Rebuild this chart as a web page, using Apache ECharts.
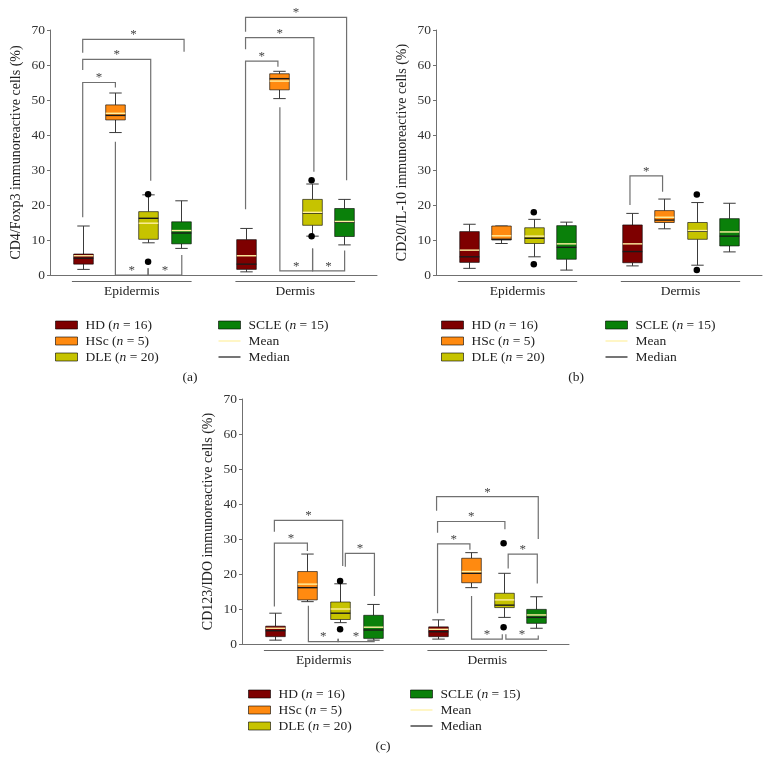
<!DOCTYPE html>
<html>
<head>
<meta charset="utf-8">
<script src="https://cdn.jsdelivr.net/npm/echarts@6/dist/echarts.min.js"></script>
<style>html,body{margin:0;padding:0;background:#fff}#chart{width:770px;height:760px}</style>
</head>
<body>
<div id="chart"></div>
<script>
// ---------- DATA ----------
const regions = ['Epidermis', 'Dermis'];
const groupNames = ['HD', 'HSc', 'DLE', 'SCLE'];
const groupN = [16, 5, 20, 15];
const yTicks = [0, 10, 20, 30, 40, 50, 60, 70];
const yTitles = ['CD4/Foxp3 immunoreactive cells (%)', 'CD20/IL-10 immunoreactive cells (%)', 'CD123/IDO immunoreactive cells (%)'];
const panelLabels = ['(a)', '(b)', '(c)'];

// each row: [min, q1, median, q3, max, mean]; first row Epidermis, second row Dermis
const a_HD   = [[1.6, 3.1, 4.8, 6.0, 14.0, 5.5], [0.9, 1.6, 3.1, 10.1, 13.3, 5.5]];
const a_HSc  = [[40.7, 44.3, 45.6, 48.6, 52.0, 46.2], [50.4, 52.9, 56.1, 57.5, 58.2, 55.4]];
const a_DLE  = [[9.2, 10.2, 16.2, 18.1, 22.9, 14.8], [11.1, 14.2, 17.7, 21.6, 26.0, 17.9]];
const a_SCLE = [[7.6, 8.9, 12.0, 15.2, 21.2, 12.7], [8.6, 11.0, 15.1, 19.0, 21.6, 15.3]];
const a_DLE_out = [[23.1, 3.8], [27.1, 11.1]];

const b_HD   = [[1.9, 3.6, 5.2, 12.4, 14.5, 7.1], [2.6, 3.5, 6.7, 14.3, 17.6, 8.9]];
const b_HSc  = [[9.0, 10.0, 10.2, 14.0, 14.0, 11.2], [13.2, 15.0, 15.7, 18.4, 21.7, 16.5]];
const b_DLE  = [[5.2, 9.0, 10.5, 13.5, 15.9, 11.1], [2.8, 10.2, 12.5, 15.0, 20.7, 12.7]];
const b_SCLE = [[1.4, 4.5, 7.9, 14.1, 15.1, 8.9], [6.6, 8.3, 11.1, 16.1, 20.5, 12.3]];
const b_DLE_out = [[17.9, 3.1], [23.0, 1.4]];

const c_HD   = [[1.1, 2.1, 3.8, 5.1, 8.8, 4.5], [1.4, 2.1, 3.5, 4.9, 6.9, 4.2]];
const c_HSc  = [[12.1, 12.6, 16.1, 20.7, 25.7, 17.1], [16.1, 17.5, 20.2, 24.5, 26.1, 20.7]];
const c_DLE  = [[6.1, 7.0, 8.8, 12.0, 17.2, 10.0], [7.6, 10.4, 11.1, 14.5, 20.2, 12.6]];
const c_SCLE = [[1.1, 1.6, 4.0, 8.2, 11.3, 4.8], [4.5, 5.9, 7.6, 9.9, 13.5, 8.3]];
const c_DLE_out = [[18.0, 4.2], [28.8, 4.8]];

// significance brackets: [xFrom, xTo, yBar, yEndFrom, yEndTo] (x in box-slot units)
const a_sig = [
  [1.0, 2.0, 55.0, 16.5, 53.6], [1.0, 3.08, 61.6, 58.6, 26.9], [1.0, 4.1, 67.3, 63.5, 63.8],
  [2.0, 3.0, 0, 38.1, 1.9], [3.0, 4.03, 0, 1.9, 5.7],
  [5.98, 9.07, 73.6, 69.5, 27.1], [5.98, 8.07, 67.8, 64.5, 29.5], [5.98, 6.97, 61.1, 18.8, 59.5],
  [7.03, 8.03, 1.2, 47.9, 7.6], [8.03, 9.01, 1.2, 7.6, 7.0]
];
const b_sig = [[5.95, 6.95, 28.3, 20.0, 23.8]];
const c_sig = [
  [0.99, 2.0, 28.8, 10.7, 26.6], [0.99, 3.08, 35.3, 32.1, 22.3], [3.16, 4.05, 25.9, 22.1, 13.7],
  [2.03, 2.94, 0.7, 10.9, 1.5], [2.94, 4.04, 0.7, 1.5, 1.4],
  [5.95, 9.06, 42.1, 38.1, 30.0], [5.98, 8.04, 35.0, 31.8, 32.8], [5.98, 6.97, 28.6, 8.8, 26.9],
  [8.14, 9.03, 25.7, 21.6, 17.3], [7.02, 7.96, 1.4, 13.7, 2.8], [8.07, 9.06, 1.4, 2.8, 2.4]
];

// ---------- STYLE ----------
const FONT = '"Liberation Serif", "DejaVu Serif", serif';
const groupColors = ['#7E0000', '#FF8A10', '#C6C300', '#0A800A'];
const meanColor = '#FFF0A0';
const medianColor = '#1a1a1a';
const panels = [
  {box: [a_HD, a_HSc, a_DLE, a_SCLE], out: a_DLE_out, sig: a_sig, grid: {left: 50, top: 30, width: 327, height: 245},
   legendTop: 312, legendLeft: [50, 213], label: [190, 377]},
  {box: [b_HD, b_HSc, b_DLE, b_SCLE], out: b_DLE_out, sig: b_sig, grid: {left: 436, top: 30, width: 326, height: 245},
   legendTop: 312, legendLeft: [436, 600], label: [576, 377]},
  {box: [c_HD, c_HSc, c_DLE, c_SCLE], out: c_DLE_out, sig: c_sig, grid: {left: 242, top: 399, width: 327, height: 245},
   legendTop: 681, legendLeft: [243, 405], label: [383, 746]}
];
const slot = (r, g) => r * 5 + g + 1;

function renderBox(params, api) {
  const x = api.value(0);
  const mn = api.value(1), q1 = api.value(2), med = api.value(3), q3 = api.value(4), mx = api.value(5), mean = api.value(6);
  const cx = Math.round(api.coord([x, 0])[0]) + 0.5;
  const y = v => api.coord([x, v])[1];
  const hw = api.size([0.3, 0])[0];
  const cw = api.size([0.19, 0])[0];
  const color = api.visual('color');
  const ls = {stroke: '#3a3a3a', lineWidth: 1};
  return {type: 'group', children: [
    {type: 'line', shape: {x1: cx, y1: y(mx), x2: cx, y2: y(q3)}, style: ls},
    {type: 'line', shape: {x1: cx, y1: y(q1), x2: cx, y2: y(mn)}, style: ls},
    {type: 'line', shape: {x1: cx - cw, y1: y(mx), x2: cx + cw, y2: y(mx)}, style: ls},
    {type: 'line', shape: {x1: cx - cw, y1: y(mn), x2: cx + cw, y2: y(mn)}, style: ls},
    {type: 'rect', shape: {x: cx - hw, y: y(q3), width: 2 * hw, height: y(q1) - y(q3)},
     style: {fill: color, stroke: 'rgba(0,0,0,0.6)', lineWidth: 1}},
    {type: 'line', shape: {x1: cx - hw, y1: y(med), x2: cx + hw, y2: y(med)}, style: {stroke: medianColor, lineWidth: 1.4}},
    {type: 'line', shape: {x1: cx - hw, y1: y(mean), x2: cx + hw, y2: y(mean)}, style: {stroke: meanColor, lineWidth: 1.4}}
  ]};
}

function renderSig(params, api) {
  const x1 = api.value(0), x2 = api.value(1), yb = api.value(2), e1 = api.value(3), e2 = api.value(4);
  const p1 = api.coord([x1, yb]), p2 = api.coord([x2, yb]);
  const q1 = api.coord([x1, e1]), q2 = api.coord([x2, e2]);
  return {type: 'group', children: [
    {type: 'polyline', shape: {points: [q1, p1, p2, q2]}, style: {stroke: '#707070', lineWidth: 1.2, fill: null}},
    {type: 'text', x: (p1[0] + p2[0]) / 2, y: p1[1] - 4.5,
     style: {text: '*', font: '13px ' + FONT, fill: '#444', align: 'center', verticalAlign: 'middle'}}
  ]};
}

function renderRegion(params, api) {
  const c = api.value(0);
  const a = api.coord([c - 1.83, 0]), b = api.coord([c + 1.83, 0]);
  return {type: 'group', children: [
    {type: 'line', shape: {x1: a[0], y1: a[1] + 6.5, x2: b[0], y2: b[1] + 6.5}, style: {stroke: '#666', lineWidth: 1}},
    {type: 'text', x: (a[0] + b[0]) / 2, y: a[1] + 16,
     style: {text: regions[params.dataIndex], font: '13.5px ' + FONT, fill: '#222', align: 'center', verticalAlign: 'middle'}}
  ]};
}

const grids = [], xAxes = [], yAxes = [], series = [], legends = [], graphics = [];
panels.forEach((p, pi) => {
  grids.push(p.grid);
  xAxes.push({gridIndex: pi, type: 'value', min: 0, max: 10, axisLine: {show: true, lineStyle: {color: '#707070'}},
    axisTick: {show: false}, axisLabel: {show: false}, splitLine: {show: false}});
  yAxes.push({gridIndex: pi, type: 'value', min: 0, max: 70, interval: 10,
    name: yTitles[pi], nameLocation: 'middle', nameGap: 27,
    nameTextStyle: {fontFamily: FONT, fontSize: 14, color: '#222'},
    axisLine: {show: true, lineStyle: {color: '#707070'}},
    axisTick: {show: true, length: 3, lineStyle: {color: '#707070'}},
    axisLabel: {fontFamily: FONT, fontSize: 13.5, color: '#333', margin: 5, formatter: v => yTicks.includes(v) ? String(v) : ''},
    splitLine: {show: false}});
  p.box.forEach((rows, g) => {
    series.push({type: 'custom', name: groupNames[g], xAxisIndex: pi, yAxisIndex: pi, clip: false, z: 3,
      itemStyle: {color: groupColors[g]}, renderItem: renderBox,
      encode: {x: 0, y: [1, 2, 3, 4, 5, 6]},
      data: rows.map((v, r) => [slot(r, g), ...v])});
  });
  const outData = [];
  p.out.forEach((vals, r) => vals.forEach(v => outData.push([slot(r, 2), v])));
  series.push({type: 'scatter', name: 'outlier', xAxisIndex: pi, yAxisIndex: pi, symbolSize: 6.5, z: 6,
    itemStyle: {color: '#000', opacity: 1}, data: outData, silent: true});
  series.push({type: 'custom', name: 'sig', xAxisIndex: pi, yAxisIndex: pi, clip: false, z: 4, silent: true,
    renderItem: renderSig, encode: {x: [0, 1], y: [2, 3, 4]}, data: p.sig});
  series.push({type: 'custom', name: 'region', xAxisIndex: pi, yAxisIndex: pi, clip: false, z: 4, silent: true,
    renderItem: renderRegion, encode: {x: 0}, data: [[2.5], [7.5]]});

  const fmt = name => {
    const gi = groupNames.indexOf(name);
    return gi >= 0 ? `{t|${name} (}{i|n}{t| = ${groupN[gi]})}` : `{t|${name}}`;
  };
  const ts = {fontFamily: FONT, fontSize: 13.5, color: '#222', lineHeight: 16, padding: [0, 0, 0, 3],
    rich: {t: {fontFamily: FONT, fontSize: 13.5, color: '#222', lineHeight: 16},
           i: {fontFamily: FONT, fontSize: 13.5, color: '#222', fontStyle: 'italic', lineHeight: 16}}};
  const boxItem = g => ({name: groupNames[g], icon: 'rect', itemStyle: {color: groupColors[g], borderColor: 'rgba(0,0,0,0.6)', borderWidth: 1}});
  const lineIcon = 'path://M0,0h22v1.2h-22z';
  legends.push({left: p.legendLeft[0], top: p.legendTop, orient: 'vertical', itemGap: 0, itemWidth: 22, itemHeight: 8,
    selectedMode: false, formatter: fmt, textStyle: ts, data: [boxItem(0), boxItem(1), boxItem(2)]});
  legends.push({left: p.legendLeft[1], top: p.legendTop, orient: 'vertical', itemGap: 0, itemWidth: 22, itemHeight: 8,
    selectedMode: false, formatter: fmt, textStyle: ts, symbolKeepAspect: true,
    data: [boxItem(3), {name: 'Mean', icon: lineIcon, itemStyle: {color: meanColor}},
           {name: 'Median', icon: lineIcon, itemStyle: {color: medianColor}}]});
  graphics.push({type: 'text', x: p.label[0], y: p.label[1],
    style: {text: panelLabels[pi], font: '13.5px ' + FONT, fill: '#222', align: 'center', verticalAlign: 'middle'}});
});
series.push({type: 'custom', name: 'Mean', xAxisIndex: 0, yAxisIndex: 0, itemStyle: {color: meanColor}, renderItem: () => null, data: []});
series.push({type: 'custom', name: 'Median', xAxisIndex: 0, yAxisIndex: 0, itemStyle: {color: medianColor}, renderItem: () => null, data: []});

const chart = echarts.init(document.getElementById('chart'), null, {renderer: 'canvas'});
chart.setOption({
  animation: false,
  backgroundColor: '#fff',
  grid: grids, xAxis: xAxes, yAxis: yAxes, series: series, legend: legends, graphic: graphics
});
</script>
</body>
</html>
